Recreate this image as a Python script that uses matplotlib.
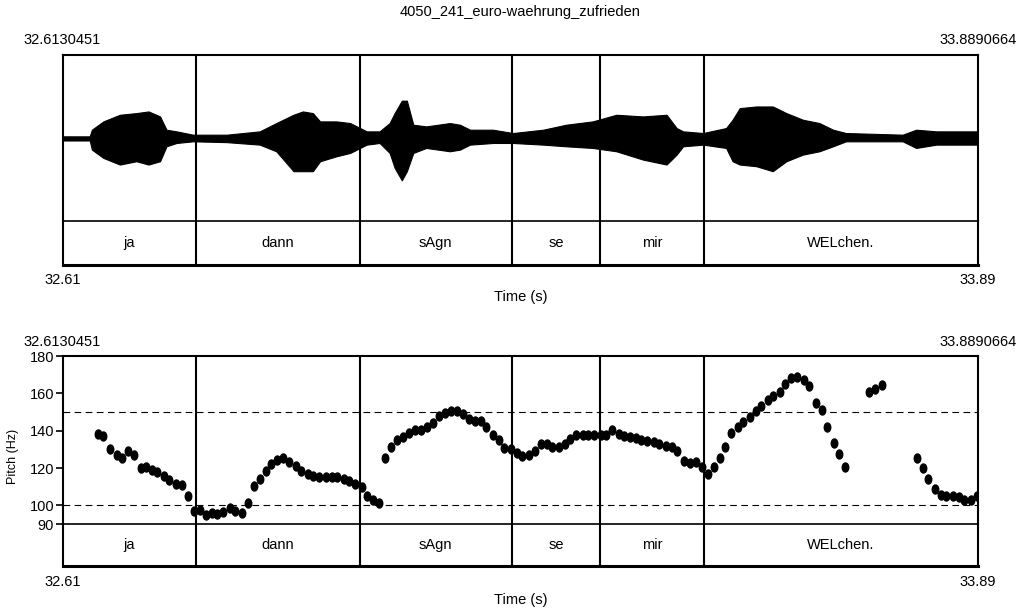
import numpy as np
import matplotlib
matplotlib.use("Agg")
import matplotlib.pyplot as plt
from matplotlib.path import Path
from matplotlib.transforms import Affine2D

plt.rcParams['font.family'] = ['Liberation Sans', 'DejaVu Sans']

# Time range of the picture
t_start = 32.6130451
t_end = 33.8890664
title = "4050_241_euro-waehrung_zufrieden"

# Word tier: interval boundaries and labels
boundaries = [32.7985, 33.0273, 33.2393, 33.3620, 33.5070]
words = ["ja", "dann", "sAgn", "se", "mir", "WELchen."]

# Waveform envelope (fraction of full scale)
env_t = [32.6130, 32.651, 32.654, 32.670, 32.693, 32.716, 32.733, 32.749, 32.758,
         32.772, 32.795, 32.842, 32.888, 32.911, 32.935, 32.948, 32.962, 32.972,
         32.995, 33.014, 33.037, 33.055, 33.069, 33.076, 33.086, 33.093, 33.102,
         33.120, 33.153, 33.167, 33.181, 33.213, 33.241, 33.283, 33.315, 33.352,
         33.385, 33.422, 33.455, 33.469, 33.478, 33.506, 33.538, 33.547, 33.557,
         33.580, 33.603, 33.622, 33.645, 33.668, 33.687, 33.705, 33.784, 33.803,
         33.831, 33.889]
env_up = [0.02, 0.02, 0.10, 0.20, 0.28, 0.30, 0.32, 0.26, 0.10,
          0.08, 0.04, 0.04, 0.08, 0.18, 0.28, 0.32, 0.30, 0.20,
          0.20, 0.18, 0.08, 0.08, 0.18, 0.30, 0.45, 0.45, 0.16,
          0.14, 0.18, 0.16, 0.10, 0.10, 0.06, 0.10, 0.16, 0.20,
          0.28, 0.26, 0.28, 0.12, 0.08, 0.06, 0.12, 0.22, 0.36,
          0.38, 0.38, 0.30, 0.22, 0.18, 0.10, 0.06, 0.04, 0.10,
          0.08, 0.08]
env_down = [0.03, 0.03, 0.14, 0.24, 0.32, 0.28, 0.32, 0.28, 0.10,
            0.06, 0.04, 0.05, 0.08, 0.16, 0.40, 0.40, 0.40, 0.28,
            0.22, 0.18, 0.08, 0.06, 0.18, 0.36, 0.51, 0.40, 0.18,
            0.12, 0.16, 0.14, 0.08, 0.06, 0.06, 0.08, 0.10, 0.12,
            0.16, 0.26, 0.32, 0.20, 0.10, 0.08, 0.12, 0.28, 0.32,
            0.34, 0.40, 0.28, 0.20, 0.16, 0.10, 0.04, 0.04, 0.12,
            0.08, 0.08]

# Pitch track (Hz), split where voicing stops
pitch_t = [
    [32.663, 32.670, 32.679, 32.689, 32.696, 32.705, 32.713, 32.722, 32.730, 32.738,
     32.745, 32.754, 32.762, 32.771, 32.780, 32.788, 32.796, 32.805, 32.813, 32.821,
     32.829, 32.837, 32.846, 32.854, 32.863, 32.871, 32.880, 32.888, 32.896, 32.904,
     32.912, 32.921, 32.929, 32.938, 32.946, 32.955, 32.962, 32.971, 32.980, 32.988,
     32.996, 33.005, 33.013, 33.021, 33.030, 33.038, 33.046, 33.054],
    [33.063, 33.071, 33.079, 33.088, 33.096, 33.105, 33.113, 33.121, 33.130, 33.138,
     33.146, 33.155, 33.163, 33.171, 33.179, 33.188, 33.196, 33.204, 33.213, 33.222,
     33.229, 33.238, 33.246, 33.254, 33.263, 33.271, 33.280, 33.288, 33.296, 33.305,
     33.313, 33.321, 33.329, 33.338, 33.346, 33.354, 33.363, 33.371, 33.379, 33.388,
     33.395, 33.404, 33.412, 33.420, 33.428, 33.437, 33.445, 33.454, 33.462, 33.470,
     33.479, 33.487, 33.496, 33.504, 33.513, 33.521, 33.529, 33.537, 33.545, 33.554,
     33.562, 33.571, 33.579, 33.587, 33.596, 33.604, 33.613, 33.620, 33.629, 33.637,
     33.646, 33.654, 33.663, 33.671, 33.679, 33.688, 33.696, 33.704],
    [33.737, 33.746, 33.755],
    [33.804, 33.813, 33.820, 33.829, 33.838, 33.845, 33.854, 33.862, 33.870, 33.879,
     33.887],
]
pitch_hz = [
    [138.3, 137.4, 130.1, 126.7, 125.1, 129.2, 126.9, 120.1, 120.3, 119.1,
     118.0, 115.5, 113.7, 111.2, 110.7, 104.8, 97.2, 97.7, 95.0, 95.7,
     95.4, 96.5, 98.6, 97.2, 95.7, 101.3, 110.1, 114.3, 118.5, 122.1,
     124.4, 125.5, 123.3, 121.2, 118.5, 116.8, 115.7, 115.3, 115.0, 115.0,
     115.0, 114.3, 112.8, 111.6, 109.8, 104.9, 102.7, 101.3],
    [125.6, 131.2, 135.1, 136.5, 138.7, 140.3, 140.1, 141.9, 144.3, 147.6,
     149.2, 150.6, 150.6, 149.0, 146.5, 145.4, 145.3, 141.7, 137.8, 135.1,
     130.5, 130.1, 128.0, 126.5, 126.7, 129.2, 133.0, 133.0, 131.5, 131.5,
     133.0, 135.6, 137.6, 137.9, 137.8, 137.8, 137.6, 137.8, 140.1, 138.3,
     137.2, 136.7, 136.0, 135.1, 134.7, 134.0, 132.8, 131.9, 131.2, 129.2,
     124.0, 122.6, 123.1, 120.3, 116.8, 120.7, 125.3, 131.5, 139.0, 141.9,
     144.6, 147.2, 150.4, 153.4, 156.5, 158.8, 160.9, 165.0, 168.1, 168.6,
     167.0, 163.8, 154.9, 151.0, 142.0, 133.3, 127.5, 120.5],
    [160.9, 162.2, 164.5],
    [125.3, 119.8, 114.1, 108.5, 105.5, 104.8, 104.8, 104.3, 103.0, 103.0,
     105.2],
]
pitch_ticks = [90, 100, 120, 140, 160, 180]
dashed_levels = [100, 150]

W, H = 1023, 610
fig = plt.figure(figsize=(W / 100, H / 100), dpi=100)


def px_axes(x0, y0, x1, y1):
    return fig.add_axes([x0 / W, 1 - y1 / H, (x1 - x0) / W, (y1 - y0) / H])


def ftext(x, y, s, **kw):
    fig.text(x / W, 1 - y / H, s, ha=kw.pop('ha', 'center'), va='center',
             fontsize=kw.pop('fontsize', 10.5), **kw)


LW = 1.5
X0, X1 = 62.5, 978


def draw_tier(ax):
    ax.set_xlim(t_start, t_end)
    ax.set_ylim(0, 1)
    ax.set_xticks([])
    ax.set_yticks([])
    for s in ax.spines.values():
        s.set_linewidth(LW)
    ax.spines['top'].set_linewidth(1.2)
    ax.spines['bottom'].set_linewidth(2.2)
    edges = [t_start] + boundaries + [t_end]
    for b in boundaries:
        ax.axvline(b, color='black', lw=LW)
    for a, b, w in zip(edges[:-1], edges[1:], words):
        ax.text((a + b) / 2, 0.5, w, ha='center', va='center', fontsize=10.5)


def frame_axes(ax):
    ax.set_xlim(t_start, t_end)
    ax.set_xticks([])
    for s in ax.spines.values():
        s.set_linewidth(LW)
    ax.spines['bottom'].set_visible(False)
    for b in boundaries:
        ax.axvline(b, color='black', lw=LW)


# ---- top: waveform
ax_w = px_axes(X0, 55, X1, 221)
frame_axes(ax_w)
ax_w.set_yticks([])
ax_w.set_ylim(-1.0, 1.0)
ax_w.fill_between(env_t, env_up, -np.array(env_down), color='black', lw=0.8)
ax_tw = px_axes(X0, 221, X1, 265)
draw_tier(ax_tw)

ftext(520, 12, title)
ftext(X0, 40, "32.6130451")
ftext(X1, 40, "33.8890664")
ftext(X0, 280, "32.61")
ftext(X1, 280, "33.89")
ftext(521, 297, "Time (s)")

# ---- bottom: pitch
ax_p = px_axes(X0, 356, X1, 524)
frame_axes(ax_p)
ax_p.set_ylim(90, 180)
ax_p.set_yticks(pitch_ticks)
ax_p.tick_params(axis='y', direction='out', length=5, width=1.2, labelsize=10.5, pad=1)
for lev in dashed_levels:
    ax_p.axhline(lev, color='black', lw=0.8, ls=(0, (6, 4)))
dot = Path.unit_circle().transformed(Affine2D().scale(0.72, 1.0))
for ts, hz in zip(pitch_t, pitch_hz):
    ax_p.plot(ts, hz, ls='none', marker=dot, ms=6.5, color='black')
ax_tp = px_axes(X0, 524, X1, 566)
draw_tier(ax_tp)

ftext(X0, 342, "32.6130451")
ftext(X1, 342, "33.8890664")
ftext(X0, 582, "32.61")
ftext(X1, 582, "33.89")
ftext(521, 600, "Time (s)")
ftext(13, 456, "Pitch (Hz)", rotation=90, fontsize=9)

fig.savefig("out.png", dpi=100)
